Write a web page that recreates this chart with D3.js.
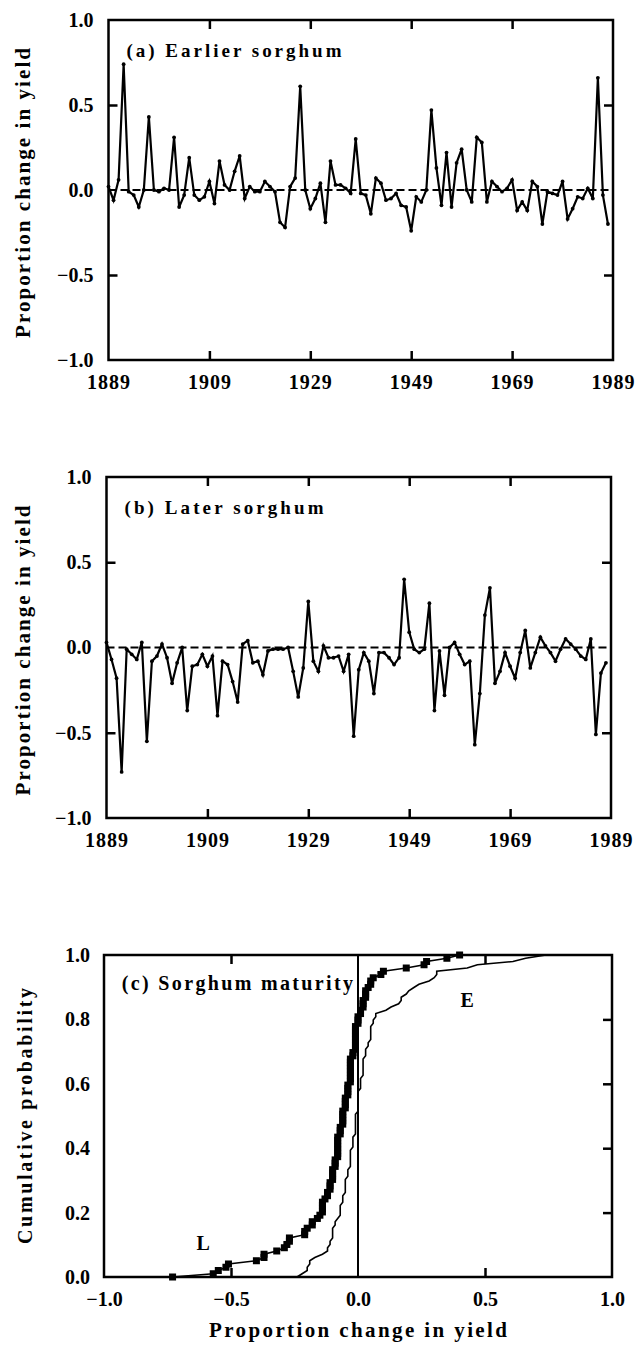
<!DOCTYPE html>
<html>
<head>
<meta charset="utf-8">
<script src="https://cdn.jsdelivr.net/npm/d3@7"></script>
<style>
  body { margin: 0; background: #fff; }
  text { font-family: "Liberation Serif", "DejaVu Serif", serif; fill: #000; }
</style>
</head>
<body>
<svg id="fig" width="637" height="1358"></svg>
<script>
// years on the x axis of panels (a) and (b)
const firstYear = 1889;
const yearTicks = [1889, 1909, 1929, 1949, 1969, 1989];
const changeTicks = [-1, -0.5, 0, 0.5, 1];
const probTicks = [0, 0.2, 0.4, 0.6, 0.8, 1];
const cdfTicks = [-1, -0.5, 0, 0.5, 1];

// proportion change in yield, earlier sorghum, 1889..1988
const earlier = [
  0.02, -0.06, 0.06, 0.74, -0.01, -0.03, -0.10, 0.00, 0.43, 0.00,
  -0.01, 0.01, 0.00, 0.31, -0.10, -0.03, 0.19, -0.03, -0.06, -0.04,
  0.05, -0.08, 0.17, 0.03, 0.00, 0.11, 0.20, -0.05, 0.02, -0.01,
  -0.01, 0.05, 0.02, -0.01, -0.19, -0.22, 0.02, 0.07, 0.61, 0.00,
  -0.11, -0.05, 0.04, -0.19, 0.17, 0.03, 0.03, 0.01, -0.02, 0.30,
  -0.02, -0.03, -0.14, 0.07, 0.04, -0.06, -0.05, -0.02, -0.09, -0.10,
  -0.24, -0.04, -0.07, 0.00, 0.47, 0.13, -0.09, 0.22, -0.10, 0.16,
  0.24, 0.00, -0.07, 0.31, 0.28, -0.07, 0.05, 0.02, -0.01, 0.01,
  0.06, -0.12, -0.07, -0.12, 0.05, 0.02, -0.20, -0.01, -0.02, -0.03,
  0.05, -0.17, -0.11, -0.04, -0.05, 0.01, -0.05, 0.66, -0.03, -0.20
];

// proportion change in yield, later sorghum, 1889..1988
const later = [
  0.03, -0.07, -0.18, -0.73, -0.01, -0.04, -0.07, 0.03, -0.55, -0.08,
  -0.05, 0.02, -0.06, -0.21, -0.09, 0.00, -0.37, -0.11, -0.10, -0.04,
  -0.11, -0.05, -0.40, -0.08, -0.10, -0.20, -0.32, 0.02, 0.04, -0.09,
  -0.08, -0.16, -0.02, -0.01, -0.01, -0.01, 0.00, -0.14, -0.29, -0.12,
  0.27, -0.08, -0.14, 0.01, -0.06, -0.06, -0.05, -0.14, -0.04, -0.52,
  -0.13, -0.03, -0.08, -0.27, -0.03, -0.03, -0.06, -0.10, -0.06, 0.40,
  0.09, -0.01, -0.03, -0.01, 0.26, -0.37, -0.02, -0.28, 0.00, 0.03,
  -0.04, -0.10, -0.08, -0.57, -0.27, 0.19, 0.35, -0.21, -0.14, -0.03,
  -0.11, -0.18, -0.03, 0.10, -0.12, -0.03, 0.06, 0.01, -0.03, -0.08,
  -0.01, 0.05, 0.02, -0.01, -0.05, -0.07, 0.05, -0.51, -0.15, -0.09
];

const svg = d3.select('#fig');
const fmt = d3.format('.1f');
const tickFont = 20;

function frame(g, x, y) {
  const [x0, x1] = x.range(), [y0, y1] = y.range();
  g.append('rect')
    .attr('x', x0).attr('y', y1)
    .attr('width', x1 - x0).attr('height', y0 - y1)
    .attr('fill', 'none').attr('stroke', '#000').attr('stroke-width', 2.5);
}

function styleAxis(sel, withText) {
  sel.select('.domain').remove();
  sel.selectAll('.tick line').attr('stroke', '#000').attr('stroke-width', 2.5);
  if (!withText) sel.selectAll('.tick text').remove();
  sel.selectAll('.tick text')
    .attr('font-size', tickFont).attr('font-weight', 'bold')
    .attr('fill', '#000');
}

function seriesPanel(top, bottom, values, label, labelWidth, shift) {
  const x = d3.scaleLinear().domain([1889, 1989]).range([108.5 + shift, 613 + shift]);
  const y = d3.scaleLinear().domain([-1, 1]).range([bottom, top]);
  const g = svg.append('g');
  const inner = yearTicks.slice(1, -1);
  const innerY = [-0.5, 0.5];

  g.append('g').attr('transform', `translate(0,${bottom})`)
    .call(d3.axisBottom(x).tickValues(yearTicks).tickSize(0).tickPadding(15).tickFormat(d3.format('d')))
    .call(s => styleAxis(s, true))
    .call(s => s.selectAll('.tick text').attr('letter-spacing', 1));
  g.append('g').attr('transform', `translate(0,${bottom})`)
    .call(d3.axisBottom(x).tickValues(inner).tickSize(-9))
    .call(s => styleAxis(s, false));
  g.append('g').attr('transform', `translate(0,${top})`)
    .call(d3.axisTop(x).tickValues(inner).tickSize(-9))
    .call(s => styleAxis(s, false));
  g.append('g').attr('transform', `translate(${x.range()[0]},0)`)
    .call(d3.axisLeft(y).tickValues(changeTicks).tickSize(0).tickPadding(15).tickFormat(fmt))
    .call(s => styleAxis(s, true));
  g.append('g').attr('transform', `translate(${x.range()[0]},0)`)
    .call(d3.axisLeft(y).tickValues(innerY).tickSize(-9))
    .call(s => styleAxis(s, false));
  g.append('g').attr('transform', `translate(${x.range()[1]},0)`)
    .call(d3.axisRight(y).tickValues(innerY).tickSize(-9))
    .call(s => styleAxis(s, false));

  // dashed zero line
  g.append('line')
    .attr('x1', x.range()[0]).attr('x2', x.range()[1])
    .attr('y1', y(0)).attr('y2', y(0))
    .attr('stroke', '#000').attr('stroke-width', 2).attr('stroke-dasharray', '8,4');

  const pts = values.map((v, i) => ({ yr: firstYear + i, v }));
  const line = d3.line().x(d => x(d.yr)).y(d => y(d.v));
  g.append('path').datum(pts)
    .attr('d', line).attr('fill', 'none')
    .attr('stroke', '#000').attr('stroke-width', 2.2);
  g.selectAll('circle.pt').data(pts).enter().append('circle')
    .attr('class', 'pt')
    .attr('cx', d => x(d.yr)).attr('cy', d => y(d.v)).attr('r', 1.9).attr('fill', '#000');

  frame(g, x, y);

  g.append('text')
    .attr('x', x.range()[0] + 18).attr('y', top + 37)
    .attr('font-size', 19).attr('font-weight', 'bold')
    .attr('textLength', labelWidth).attr('lengthAdjust', 'spacing')
    .text(label);

  g.append('text')
    .attr('transform', `translate(30,${(top + bottom) / 2 + 3}) rotate(-90)`)
    .attr('text-anchor', 'middle')
    .attr('font-size', 21).attr('font-weight', 'bold')
    .attr('textLength', 290).attr('lengthAdjust', 'spacing')
    .text('Proportion change in yield');
}

seriesPanel(20, 360, earlier, '(a) Earlier sorghum', 215, 0);
seriesPanel(477, 818, later, '(b) Later sorghum', 199, -2);

// panel (c): cumulative distributions of the two series
(function () {
  const x = d3.scaleLinear().domain([-1, 1]).range([104, 612]);
  const y = d3.scaleLinear().domain([0, 1]).range([1277, 955]);
  const g = svg.append('g');
  const [xL, xR] = x.range(), [yB, yT] = y.range();

  g.append('g').attr('transform', `translate(0,${yB})`)
    .call(d3.axisBottom(x).tickValues(cdfTicks).tickSize(0).tickPadding(15).tickFormat(fmt))
    .call(s => styleAxis(s, true));
  g.append('g').attr('transform', `translate(0,${yB})`)
    .call(d3.axisBottom(x).tickValues([-0.5, 0.5]).tickSize(-9))
    .call(s => styleAxis(s, false));
  g.append('g').attr('transform', `translate(0,${yT})`)
    .call(d3.axisTop(x).tickValues([-0.5, 0.5]).tickSize(-9))
    .call(s => styleAxis(s, false));
  g.append('g').attr('transform', `translate(${xL},0)`)
    .call(d3.axisLeft(y).tickValues(probTicks).tickSize(0).tickPadding(14).tickFormat(fmt))
    .call(s => styleAxis(s, true));
  g.append('g').attr('transform', `translate(${xR},0)`)
    .call(d3.axisRight(y).tickValues(probTicks.slice(1, -1)).tickSize(-9))
    .call(s => styleAxis(s, false));

  g.append('line')
    .attr('x1', x(0)).attr('x2', x(0)).attr('y1', yT).attr('y2', yB)
    .attr('stroke', '#000').attr('stroke-width', 2);

  function ecdf(vals) {
    const s = vals.slice().sort(d3.ascending);
    return s.map((v, i) => ({ v, p: i / (s.length - 1) }));
  }
  const line = d3.line().x(d => x(d.v)).y(d => y(d.p));
  const eC = ecdf(earlier), lC = ecdf(later);

  g.append('path').datum(eC).attr('d', line)
    .attr('fill', 'none').attr('stroke', '#000').attr('stroke-width', 1.6);
  g.append('path').datum(lC).attr('d', line)
    .attr('fill', 'none').attr('stroke', '#000').attr('stroke-width', 1.6);
  g.selectAll('rect.sq').data(lC).enter().append('rect')
    .attr('class', 'sq')
    .attr('x', d => x(d.v) - 3.5).attr('y', d => y(d.p) - 3.5)
    .attr('width', 7).attr('height', 7).attr('fill', '#000');

  frame(g, x, y);

  g.append('text')
    .attr('x', x(-0.93)).attr('y', y(0.89))
    .attr('font-size', 20).attr('font-weight', 'bold')
    .attr('textLength', x(-0.02) - x(-0.93)).attr('lengthAdjust', 'spacing')
    .text('(c) Sorghum maturity');
  g.append('text').attr('x', x(0.43)).attr('y', y(0.84))
    .attr('text-anchor', 'middle').attr('font-size', 20).attr('font-weight', 'bold').text('E');
  g.append('text').attr('x', x(-0.61)).attr('y', y(0.085))
    .attr('text-anchor', 'middle').attr('font-size', 20).attr('font-weight', 'bold').text('L');

  g.append('text')
    .attr('transform', `translate(32,${(yT + yB) / 2}) rotate(-90)`)
    .attr('text-anchor', 'middle')
    .attr('font-size', 20).attr('font-weight', 'bold')
    .attr('textLength', 256).attr('lengthAdjust', 'spacing')
    .text('Cumulative probability');
  g.append('text')
    .attr('x', (xL + xR) / 2).attr('y', 1337)
    .attr('text-anchor', 'middle')
    .attr('font-size', 21).attr('font-weight', 'bold')
    .attr('textLength', 298).attr('lengthAdjust', 'spacing')
    .text('Proportion change in yield');
})();
</script>
</body>
</html>
